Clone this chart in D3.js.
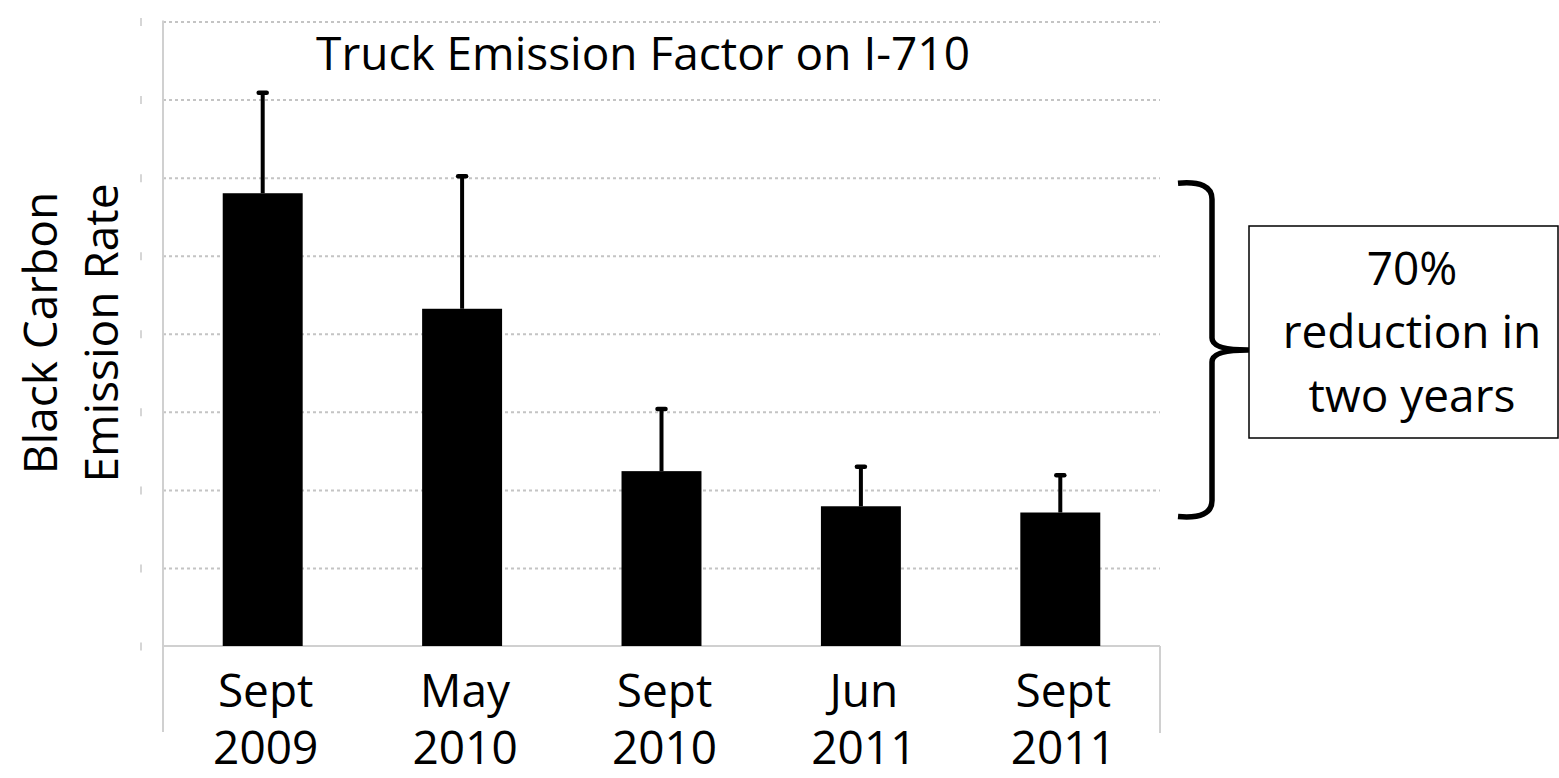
<!DOCTYPE html>
<html>
<head>
<meta charset="utf-8">
<script src="https://cdn.jsdelivr.net/npm/d3@7"></script>
<style>
  html, body { margin: 0; padding: 0; background: #fff; }
  svg { display: block; }
  text { font-family: "Open Sans", "Lato", sans-serif; fill: #000; }
</style>
</head>
<body>
<svg id="chart" width="1559" height="778"></svg>
<script>
// ---- data ----
const monthLabels = ["Sept", "May", "Sept", "Jun", "Sept"];
const yearLabels = ["2009", "2010", "2010", "2011", "2011"];
const values = [5.80, 4.32, 2.24, 1.79, 1.71];
const errorTops = [7.10, 6.03, 3.05, 2.31, 2.20];
const yTickValues = [0, 1, 2, 3, 4, 5, 6, 7, 8];
const titleText = "Truck Emission Factor on I-710";
const yTitleLines = ["Black Carbon", "Emission Rate"];
const noteLines = ["70%", "reduction in", "two years"];

// ---- layout ----
const svg = d3.select("#chart");
const plotLeft = 163, plotRight = 1160, plotTop = 21.5, plotBottom = 646;
const cats = monthLabels.map((m, i) => m + " " + yearLabels[i]);

const x = d3.scaleBand().domain(cats).range([plotLeft, plotRight])
  .paddingInner(0.599).paddingOuter(0.2995);
const y = d3.scaleLinear().domain([0, 8]).range([plotBottom, plotTop]);

// font size: fit title to reference width
const probe = svg.append("text").attr("font-size", 50).text(titleText);
const w50 = probe.node().getComputedTextLength();
probe.remove();
const fs = 50 * 654 / w50;

// gridlines
const grid = svg.append("g").attr("transform", `translate(${plotLeft},0)`)
  .call(d3.axisLeft(y).tickValues(yTickValues.filter(v => v > 0))
    .tickSize(-(plotRight - plotLeft)).tickFormat(""));
grid.select(".domain").remove();
grid.selectAll(".tick line").attr("stroke", "#c4c4c4").attr("stroke-width", 2)
  .attr("stroke-dasharray", "3,3");

// faint remnant tick marks at far left
const faint = svg.append("g").attr("transform", "translate(141,0)")
  .call(d3.axisLeft(y).tickValues(yTickValues).tickSize(0).tickFormat(""));
faint.select(".domain").remove();
faint.selectAll(".tick").append("line")
  .attr("x1", 0).attr("x2", 0).attr("y1", -4).attr("y2", 4)
  .attr("stroke", "#c8c8c8").attr("stroke-width", 1.5);

// baseline and axis frame lines
svg.append("line").attr("x1", plotLeft).attr("x2", plotRight)
  .attr("y1", y(0)).attr("y2", y(0)).attr("stroke", "#d0d0d0").attr("stroke-width", 2);
svg.append("line").attr("x1", plotLeft).attr("x2", plotLeft)
  .attr("y1", plotTop - 1).attr("y2", 732).attr("stroke", "#d0d0d0").attr("stroke-width", 2);
svg.append("line").attr("x1", plotRight).attr("x2", plotRight)
  .attr("y1", y(0)).attr("y2", 733).attr("stroke", "#d0d0d0").attr("stroke-width", 2);

// bars
svg.append("g").selectAll("rect").data(values).join("rect")
  .attr("x", (d, i) => x(cats[i]))
  .attr("width", x.bandwidth())
  .attr("y", d => y(d))
  .attr("height", d => y(0) - y(d))
  .attr("fill", "#000");

// error bars
const eb = svg.append("g");
eb.selectAll("line.stem").data(values).join("line").attr("class", "stem")
  .attr("x1", (d, i) => x(cats[i]) + x.bandwidth() / 2)
  .attr("x2", (d, i) => x(cats[i]) + x.bandwidth() / 2)
  .attr("y1", d => y(d))
  .attr("y2", (d, i) => y(errorTops[i]))
  .attr("stroke", "#000").attr("stroke-width", 4);
eb.selectAll("line.cap").data(errorTops).join("line").attr("class", "cap")
  .attr("x1", (d, i) => x(cats[i]) + x.bandwidth() / 2 - 4)
  .attr("x2", (d, i) => x(cats[i]) + x.bandwidth() / 2 + 4)
  .attr("y1", d => y(d) + 1)
  .attr("y2", d => y(d) + 1)
  .attr("stroke", "#000").attr("stroke-width", 4.5).attr("stroke-linecap", "round");

// category labels
const lab = svg.append("g").attr("text-anchor", "middle").attr("font-size", fs);
lab.selectAll("text.m").data(monthLabels).join("text").attr("class", "m")
  .attr("x", (d, i) => x(cats[i]) + x.bandwidth() / 2 + 3)
  .attr("y", 707).text(d => d);
lab.selectAll("text.yr").data(yearLabels).join("text").attr("class", "yr")
  .attr("x", (d, i) => x(cats[i]) + x.bandwidth() / 2 + 3)
  .attr("y", 764).text(d => d);

// title
svg.append("text").attr("x", 643).attr("y", 70).attr("text-anchor", "middle")
  .attr("font-size", fs).text(titleText);

// y-axis title
const yBase = [57, 118];
svg.append("g").selectAll("text").data(yTitleLines).join("text")
  .attr("transform", (d, i) => `translate(${yBase[i]},333) rotate(-90)`)
  .attr("text-anchor", "middle").attr("font-size", fs).text(d => d);

// bracket
const bTop = y(values[0]) - 10, bBot = y(values[values.length - 1]) + 4;
const bMid = (bTop + bBot) / 2;
const bx0 = 1178, bx1 = 1212, bx2 = 1248;
const p = d3.path();
p.moveTo(bx0, bTop);
p.quadraticCurveTo(bx1, bTop - 3, bx1, bTop + 16);
p.lineTo(bx1, bMid - 12);
p.quadraticCurveTo(bx1, bMid, bx2, bMid);
p.quadraticCurveTo(bx1, bMid, bx1, bMid + 12);
p.lineTo(bx1, bBot - 16);
p.quadraticCurveTo(bx1, bBot + 3, bx0, bBot);
svg.append("path").attr("d", p.toString()).attr("fill", "none")
  .attr("stroke", "#000").attr("stroke-width", 5.5).attr("stroke-linejoin", "round");

// note box
svg.append("rect").attr("x", 1249).attr("y", 226).attr("width", 309).attr("height", 212)
  .attr("fill", "#fff").attr("stroke", "#000").attr("stroke-width", 1.5);
const noteBase = [285, 348, 412];
svg.append("g").attr("text-anchor", "middle").attr("font-size", fs)
  .selectAll("text").data(noteLines).join("text")
  .attr("x", 1412).attr("y", (d, i) => noteBase[i]).text(d => d);
</script>
</body>
</html>
